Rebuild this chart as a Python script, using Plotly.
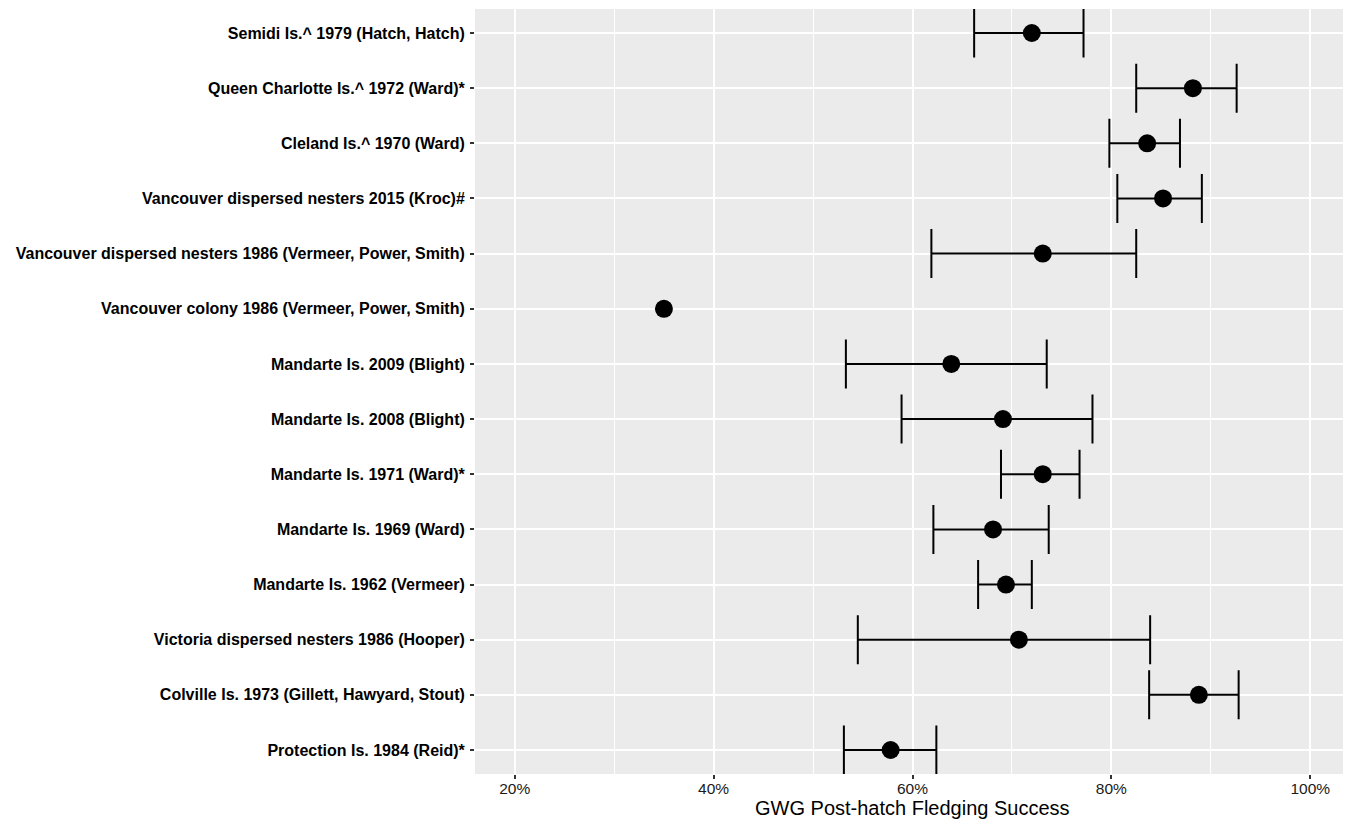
import plotly.graph_objects as go

# Categories listed bottom to top
studies = [
    "Protection Is. 1984 (Reid)*",
    "Colville Is. 1973 (Gillett, Hawyard, Stout)",
    "Victoria dispersed nesters 1986 (Hooper)",
    "Mandarte Is. 1962 (Vermeer)",
    "Mandarte Is. 1969 (Ward)",
    "Mandarte Is. 1971 (Ward)*",
    "Mandarte Is. 2008 (Blight)",
    "Mandarte Is. 2009 (Blight)",
    "Vancouver colony 1986 (Vermeer, Power, Smith)",
    "Vancouver dispersed nesters 1986 (Vermeer, Power, Smith)",
    "Vancouver dispersed nesters 2015 (Kroc)#",
    "Cleland Is.^ 1970 (Ward)",
    "Queen Charlotte Is.^ 1972 (Ward)*",
    "Semidi Is.^ 1979 (Hatch, Hatch)",
]
success = [57.8, 88.8, 70.7, 69.4, 68.1, 73.1, 69.1, 63.9, 35.0, 73.1, 85.2, 83.6, 88.2, 72.0]
lower = [53.1, 83.8, 54.5, 66.6, 62.1, 68.9, 58.9, 53.3, None, 61.9, 80.6, 79.8, 82.5, 66.2]
upper = [62.4, 92.8, 83.9, 72.0, 73.7, 76.8, 78.1, 73.5, None, 82.5, 89.1, 86.9, 92.6, 77.2]

x_ticks = [20, 40, 60, 80, 100]
x_tick_labels = ["20%", "40%", "60%", "80%", "100%"]
x_minor = [30, 50, 70, 90]
x_title = "GWG Post-hatch Fledging Success"

# rows that have an interval
eb_rows = [i for i in range(len(studies)) if lower[i] is not None]
eb_y = [studies[i] for i in eb_rows]
eb_x = [success[i] for i in eb_rows]
eb_plus = [upper[i] - success[i] for i in eb_rows]
eb_minus = [success[i] - lower[i] for i in eb_rows]

fig = go.Figure()
fig.add_trace(go.Scatter(
    x=eb_x, y=eb_y, mode="markers",
    marker=dict(size=1, color="rgba(0,0,0,0)"),
    error_x=dict(type="data", symmetric=False, array=eb_plus, arrayminus=eb_minus,
                 color="black", thickness=2, width=24.5),
    showlegend=False, hoverinfo="skip",
))
fig.add_trace(go.Scatter(
    x=success, y=studies, mode="markers",
    marker=dict(size=18, color="black"),
    showlegend=False, hoverinfo="x+y",
))

# the page body adds an 8px margin, so the figure is sized to end at the window edge
fig.update_layout(
    width=1343, height=812,
    margin=dict(l=467, r=1, t=1, b=46),
    paper_bgcolor="white", plot_bgcolor="#EBEBEB",
    font=dict(family="Liberation Sans, Arial, sans-serif", color="black"),
)
fig.update_xaxes(
    range=[16, 104], tickvals=x_ticks, ticktext=x_tick_labels,
    showgrid=True, gridcolor="white", gridwidth=2,
    minor=dict(tickvals=x_minor, showgrid=True, gridcolor="white", gridwidth=1, ticks=""),
    ticks="outside", ticklen=4, tickwidth=1.5, tickcolor="#333333",
    tickfont=dict(size=15.5, color="#1a1a1a"),
    ticklabelstandoff=-4,
    zeroline=False, showline=False, automargin=False,
)
fig.update_yaxes(
    type="category", categoryorder="array", categoryarray=studies,
    range=[-0.435, 13.435],
    showgrid=True, gridcolor="white", gridwidth=2,
    ticks="outside", ticklen=4, tickwidth=1.5, tickcolor="#333333",
    tickfont=dict(size=16, color="black", weight="bold"),
    ticklabelstandoff=2,
    zeroline=False, showline=False, automargin=False,
)
# x-axis title placed just under the tick labels
fig.add_annotation(
    text=x_title, xref="paper", yref="paper", x=0.5, y=-0.0444,
    xanchor="center", yanchor="middle", showarrow=False,
    font=dict(size=20, color="black"),
)

fig.write_html("out.html")
